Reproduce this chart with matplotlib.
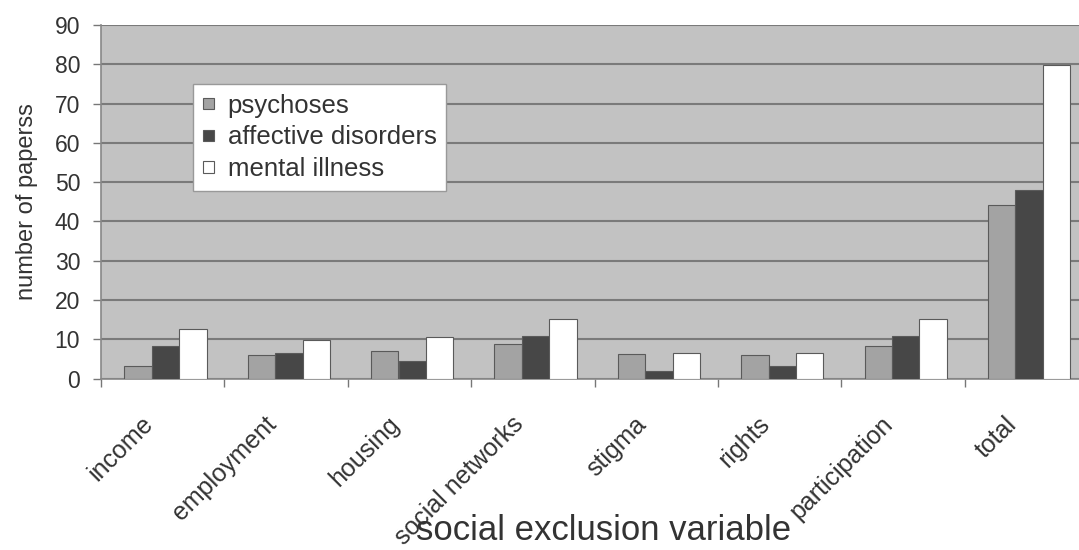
import numpy as np
import matplotlib.pyplot as plt
import matplotlib.transforms as mtransforms
from matplotlib.patches import Patch

plt.rcParams['font.family'] = ['Liberation Sans', 'DejaVu Sans']

categories = ['income', 'employment', 'housing', 'social networks',
              'stigma', 'rights', 'participation', 'total']
psychoses = [3.2, 6.1, 6.9, 8.7, 6.3, 6.1, 8.2, 44.2]
affective = [8.2, 6.6, 4.4, 10.7, 2.0, 3.1, 10.7, 48.0]
mental_illness = [12.6, 9.8, 10.5, 15.1, 6.6, 6.6, 15.1, 79.8]

series = [('psychoses', psychoses, '#a3a3a3'),
          ('affective disorders', affective, '#474747'),
          ('mental illness', mental_illness, '#ffffff')]

W, H = 1079, 550
fig = plt.figure(figsize=(W / 100, H / 100), dpi=100)
# plot area runs slightly past the right edge of the figure
ax = fig.add_axes([101 / W, (H - 378.5) / H, (1088 - 101) / W, (378.5 - 25) / H])
ax.set_facecolor('#c2c2c2')

x = np.arange(len(categories))
offsets = [-0.2, 0.023, 0.245]
width = 0.222
for (name, vals, col), off in zip(series, offsets):
    ax.bar(x + off, vals, width, color=col, edgecolor='#5a5a5a',
           linewidth=0.8, label=name, zorder=3)

ax.set_xlim(-0.5, len(categories) - 0.5)
ax.set_ylim(0, 90)
ax.set_yticks(range(0, 91, 10))
ax.yaxis.grid(True, color='#7a7a7a', linewidth=1.5, zorder=0)
ax.set_axisbelow(True)

ax.set_xticks(x)
ax.set_xticks(np.arange(-0.5, len(categories), 1), minor=True)
ax.tick_params(axis='x', which='major', length=0, pad=24)
ax.tick_params(axis='x', which='minor', length=6, color='#777777', width=1)
ax.tick_params(axis='y', length=6, color='#777777', width=1,
               labelsize=16.5, labelcolor='#333333', pad=9)
ax.set_xticklabels(categories, rotation=45, ha='right', va='top',
                   rotation_mode='anchor', fontsize=18, color='#333333')
shift = mtransforms.ScaledTranslation(-22 / 100, 0, fig.dpi_scale_trans)
for lbl in ax.get_xticklabels():
    lbl.set_transform(lbl.get_transform() + shift)

for side in ['top', 'right']:
    ax.spines[side].set_visible(False)
for side in ['left', 'bottom']:
    ax.spines[side].set_color('#888888')
    ax.spines[side].set_linewidth(1.2)

ax.set_ylabel('number of paperss', fontsize=17, color='#333333', labelpad=12)
fig.text(604 / W, 1 - 531 / H, 'social exclusion variable', fontsize=25,
         color='#333333', ha='center', va='center')

handles = [Patch(facecolor=c, edgecolor='#5a5a5a', linewidth=0.8, label=n)
           for n, _, c in series]
leg = ax.legend(handles=handles, loc='upper left',
                bbox_to_anchor=((193 - 101) / (1088 - 101), (378.5 - 84) / (378.5 - 25)),
                fontsize=18.5, frameon=True, fancybox=False, framealpha=1,
                edgecolor='#999999', handlelength=0.42, handleheight=0.3,
                handletextpad=0.55, labelspacing=0.3, borderpad=0.38,
                borderaxespad=0)
leg.get_frame().set_linewidth(1)
for t in leg.get_texts():
    t.set_color('#333333')

fig.savefig('out.png', dpi=100)
